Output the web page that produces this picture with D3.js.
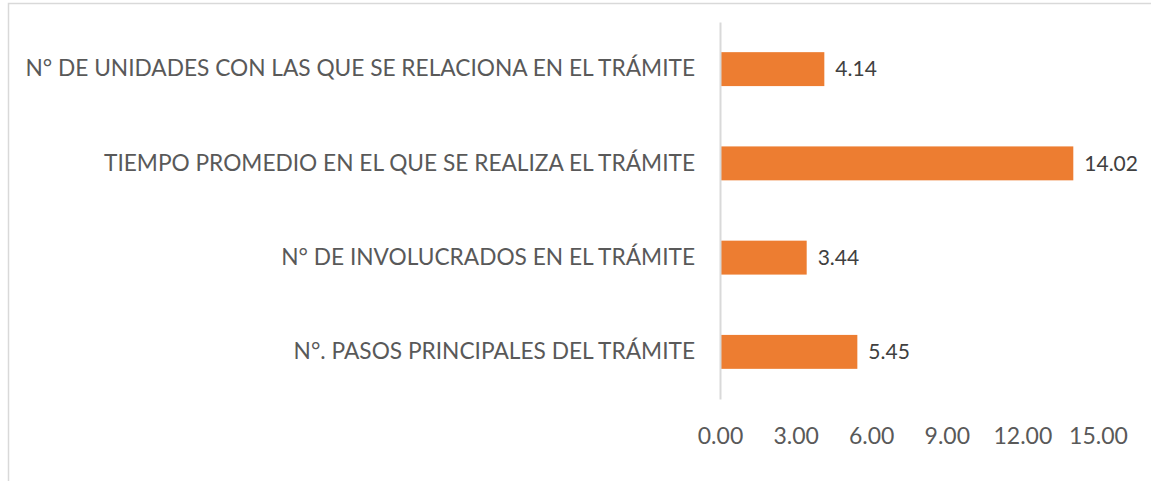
<!DOCTYPE html>
<html>
<head>
<meta charset="utf-8">
<script src="https://cdn.jsdelivr.net/npm/d3@7"></script>
<style>
	body { margin: 0; background: #fff; }
	text { font-family: Lato, "Open Sans", sans-serif; }
</style>
</head>
<body>
<svg id="chart" width="1151" height="481"></svg>
<script>
// categories top to bottom, as in the picture
var categories = [
	"N° DE UNIDADES CON LAS QUE SE RELACIONA EN EL TRÁMITE",
	"TIEMPO PROMEDIO EN EL QUE SE REALIZA EL TRÁMITE",
	"N° DE INVOLUCRADOS EN EL TRÁMITE",
	"N°. PASOS PRINCIPALES DEL TRÁMITE"
];
var values = [4.14, 14.02, 3.44, 5.45];
var xTicks = [0, 3, 6, 9, 12, 15];

var svg = d3.select("#chart");

// chart area border (cut off on right and bottom)
svg.append("rect")
	.attr("x", 8.5)
	.attr("y", 3.5)
	.attr("width", 1160)
	.attr("height", 500)
	.attr("fill", "none")
	.attr("stroke", "#d9d9d9")
	.attr("stroke-width", 1.5);

var x = d3.scaleLinear()
	.domain([0, 15])
	.range([720, 1098]);

var y = d3.scaleBand()
	.domain(categories)
	.range([22, 399])
	.paddingInner(0.64)
	.paddingOuter(0.32);

// x axis labels only, no line
var xAxis = d3.axisBottom(x)
	.tickValues(xTicks)
	.tickSize(0)
	.tickPadding(0)
	.tickFormat(d3.format(".2f"));

var gx = svg.append("g")
	.attr("transform", "translate(0,430)")
	.call(xAxis);
gx.select(".domain").remove();
gx.selectAll("text")
	.attr("dy", "0.62em")
	.style("font-size", "23px")
	.attr("fill", "#595959");

// bars
svg.selectAll(".bar")
	.data(values)
	.enter()
	.append("rect")
	.classed("bar", true)
	.attr("x", x(0))
	.attr("y", function(d, i) { return y(categories[i]); })
	.attr("width", function(d) { return x(d) - x(0); })
	.attr("height", y.bandwidth())
	.attr("fill", "#ED7D31");

// vertical category axis
var yAxis = d3.axisLeft(y)
	.tickSize(0)
	.tickPadding(25);

var gy = svg.append("g")
	.attr("transform", "translate(" + x(0) + ",0)")
	.call(yAxis);
gy.select(".domain")
	.attr("stroke", "#d9d9d9")
	.attr("stroke-width", 2);
gy.selectAll("text")
	.style("font-size", "22.7px")
	.attr("fill", "#595959");

// value labels
svg.selectAll(".value")
	.data(values)
	.enter()
	.append("text")
	.classed("value", true)
	.attr("x", function(d) { return x(d) + 11; })
	.attr("y", function(d, i) { return y(categories[i]) + y.bandwidth() / 2; })
	.attr("dy", "0.35em")
	.style("font-size", "21px")
	.attr("fill", "#404040")
	.text(function(d) { return d3.format(".2f")(d); });
</script>
</body>
</html>
